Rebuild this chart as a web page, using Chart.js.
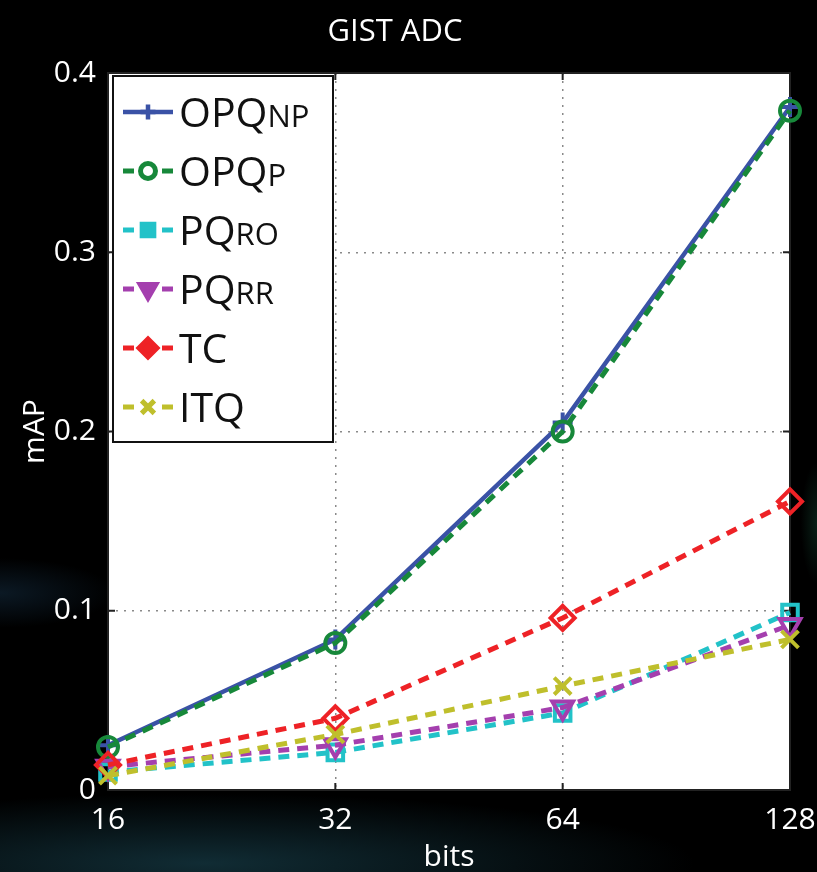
<!DOCTYPE html>
<html>
<head>
<meta charset="utf-8">
<script src="https://cdn.jsdelivr.net/npm/chart.js@4/dist/chart.umd.min.js"></script>
<style>
  html, body { margin: 0; padding: 0; }
  body {
    width: 817px; height: 872px; overflow: hidden;
    background:
      radial-gradient(ellipse 60% 8% at 25% 99%, rgba(30, 80, 95, 0.55), transparent 100%),
      radial-gradient(ellipse 14% 4% at 0% 68%, rgba(25, 55, 80, 0.45), transparent 100%),
      radial-gradient(ellipse 2% 7% at 100% 60%, rgba(20, 70, 50, 0.45), transparent 100%),
      #000;
  }
  #wrap { position: relative; width: 817px; height: 872px; }
</style>
</head>
<body>
<div id="wrap"><canvas id="mapChart"></canvas></div>
<script>
// code length in bits
const bits = ['16', '32', '64', '128'];
const yTicks = [0, 0.1, 0.2, 0.3, 0.4];

// mAP per method
const opqNP = [0.025, 0.084, 0.205, 0.381];
const opqP  = [0.024, 0.082, 0.200, 0.379];
const pqRO  = [0.010, 0.021, 0.043, 0.099];
const pqRR  = [0.013, 0.025, 0.046, 0.092];
const tc    = [0.014, 0.040, 0.096, 0.161];
const itq   = [0.008, 0.031, 0.058, 0.084];

// legend names: main part + subscript
const names = ['OPQ', 'OPQ', 'PQ', 'PQ', 'TC', 'ITQ'];
const subs  = ['NP', 'P', 'RO', 'RR', '', ''];

const FONT = '"Open Sans", "DejaVu Sans", sans-serif';

function series(i, values, color, style, dashed, radius, rotation) {
  return {
    label: names[i] + subs[i],
    data: values,
    borderColor: color,
    borderWidth: dashed ? 5 : 4.5,
    borderDash: dashed ? [11, 8] : [],
    pointStyle: style,
    pointRadius: radius,
    pointHoverRadius: radius,
    pointRotation: rotation || 0,
    pointBorderWidth: 4,
    pointBorderColor: color,
    pointBackgroundColor: 'rgba(0,0,0,0)',
    tension: 0,
    clip: false,
    order: 10 - i   // later series on top
  };
}

const datasets = [
  series(0, opqNP, '#3a52a6', 'cross', false, 10),
  series(1, opqP,  '#17883a', 'circle', true, 10),
  series(2, pqRO,  '#22c2c8', 'rect', true, 11),
  series(3, pqRR,  '#a43fae', 'triangle', true, 12, 180),
  series(4, tc,    '#ee2226', 'rectRot', true, 12),
  series(5, itq,   '#bfbf2c', 'crossRot', true, 12)
];

// white plot area + frame with inward ticks
const plotFrame = {
  id: 'plotFrame',
  beforeDraw(chart) {
    const a = chart.chartArea, ctx = chart.ctx;
    ctx.save();
    ctx.fillStyle = '#fff';
    ctx.fillRect(a.left, a.top, a.right - a.left, a.bottom - a.top);
    ctx.restore();
  },
  beforeDatasetsDraw(chart) {
    const a = chart.chartArea, ctx = chart.ctx;
    const xs = chart.scales.x, ys = chart.scales.y;
    ctx.save();
    ctx.strokeStyle = '#222';
    ctx.lineWidth = 2;
    ctx.strokeRect(a.left, a.top, a.right - a.left, a.bottom - a.top);
    ctx.beginPath();
    xs.ticks.forEach((t, i) => {
      const px = xs.getPixelForTick(i);
      ctx.moveTo(px, a.bottom); ctx.lineTo(px, a.bottom - 7);
      ctx.moveTo(px, a.top); ctx.lineTo(px, a.top + 7);
    });
    ys.ticks.forEach((t, i) => {
      const py = ys.getPixelForTick(i);
      ctx.moveTo(a.left, py); ctx.lineTo(a.left + 7, py);
      ctx.moveTo(a.right, py); ctx.lineTo(a.right - 7, py);
    });
    ctx.stroke();
    ctx.restore();
  }
};

// boxed legend in the upper left with subscripted names
const boxLegend = {
  id: 'boxLegend',
  afterDatasetsDraw(chart) {
    const ctx = chart.ctx;
    const x0 = 113, y0 = 76, w = 220, h = 366;
    ctx.save();
    ctx.fillStyle = '#fff';
    ctx.fillRect(x0, y0, w, h);
    ctx.strokeStyle = '#111';
    ctx.lineWidth = 2;
    ctx.strokeRect(x0, y0, w, h);
    chart.data.datasets.forEach((ds, i) => {
      const cy = 112 + i * 59;
      ctx.strokeStyle = ds.borderColor;
      ctx.lineWidth = ds.borderWidth;
      ctx.setLineDash([]);
      ctx.beginPath();
      if (ds.borderDash.length) {
        ctx.moveTo(123, cy); ctx.lineTo(134, cy);
        ctx.moveTo(162, cy); ctx.lineTo(173, cy);
      } else {
        ctx.moveTo(123, cy); ctx.lineTo(173, cy);
      }
      ctx.stroke();
      ctx.fillStyle = ds.pointStyle === 'circle' ? '#fff' : ds.borderColor;
      Chart.helpers.drawPoint(ctx, {
        pointStyle: ds.pointStyle,
        rotation: ds.pointRotation,
        radius: ds.pointRadius * 0.75,
        borderWidth: 5
      }, 148, cy);
      ctx.fillStyle = '#111';
      ctx.textBaseline = 'alphabetic';
      ctx.textAlign = 'left';
      ctx.font = '41px ' + FONT;
      ctx.fillText(names[i], 179, cy + 15);
      const mw = ctx.measureText(names[i]).width;
      if (subs[i]) {
        ctx.font = '31px ' + FONT;
        ctx.fillText(subs[i], 179 + mw, cy + 15);
      }
    });
    ctx.restore();
  }
};

const gridColor = (c, last) => (c.index === 0 || c.index === last) ? 'rgba(0,0,0,0)' : '#8a8a8a';

new Chart(document.getElementById('mapChart'), {
  type: 'line',
  data: { labels: bits, datasets: datasets },
  options: {
    responsive: true,
    maintainAspectRatio: false,
    animation: false,
    layout: { padding: { right: 27 } },
    plugins: {
      legend: { display: false },
      tooltip: { enabled: false },
      title: {
        display: true,
        text: 'GIST ADC',
        color: '#fff',
        font: { family: FONT, size: 31, weight: 'normal', lineHeight: 1.2 },
        padding: { top: 14, bottom: 21.8 }
      }
    },
    scales: {
      x: {
        type: 'category',
        offset: false,
        afterFit(scale) {
          scale.height = 82;
          // let the end labels hang past the plot edges
          scale.paddingLeft = 0;
          scale.paddingRight = 0;
        },
        border: { display: false, dash: [2, 6] },
        grid: {
          drawTicks: false,
          color: c => gridColor(c, bits.length - 1),
          lineWidth: 1.5
        },
        ticks: { color: '#fff', padding: 12, maxRotation: 0, font: { family: FONT, size: 30 } },
        title: {
          display: true, text: 'bits', color: '#fff',
          font: { family: FONT, size: 30, lineHeight: 1 },
          padding: { top: 0, bottom: 0 }
        }
      },
      y: {
        min: 0,
        max: 0.4,
        afterFit(scale) { scale.width = 108; },
        afterBuildTicks(scale) { scale.ticks = yTicks.map(v => ({ value: v })); },
        border: { display: false, dash: [2, 6] },
        grid: {
          drawTicks: false,
          color: c => gridColor(c, yTicks.length - 1),
          lineWidth: 1.5
        },
        ticks: { color: '#fff', padding: 12, font: { family: FONT, size: 30 } },
        title: {
          display: true, text: 'mAP', color: '#fff',
          font: { family: FONT, size: 30, lineHeight: 1.2 },
          padding: { top: 17, bottom: 0 }
        }
      }
    }
  },
  plugins: [plotFrame, boxLegend]
});
</script>
</body>
</html>
